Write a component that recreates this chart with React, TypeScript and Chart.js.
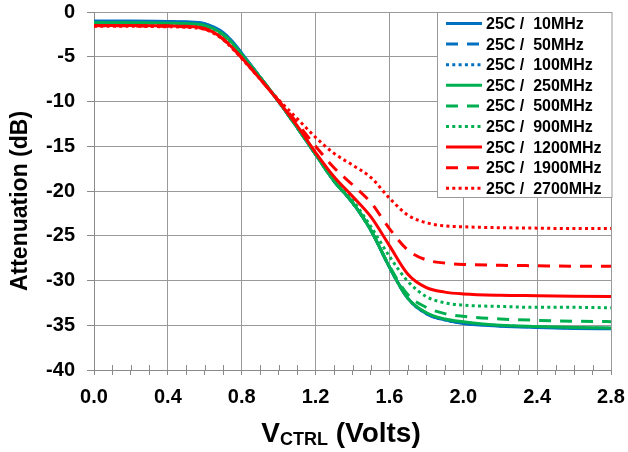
import React, { useEffect, useRef } from "react";
import { Chart, registerables } from "chart.js";

Chart.register(...registerables);

// Control voltage (V)
const VOLTS = [0, 0.2, 0.4, 0.5, 0.6, 0.65, 0.7, 0.75, 0.8, 0.9, 1.0, 1.1, 1.2, 1.3, 1.4, 1.5, 1.6, 1.7, 1.8, 1.9, 2.0, 2.2, 2.4, 2.6, 2.8];

// Attenuation (dB) per frequency
const ATT_10MHZ = [-1.0, -1.0, -1.05, -1.1, -1.3, -1.7, -2.3, -3.3, -4.6, -7.3, -10.0, -12.9, -15.9, -18.9, -21.3, -24.4, -28.5, -32.0, -33.7, -34.4, -34.8, -35.1, -35.25, -35.35, -35.4];
const ATT_50MHZ = [-1.05, -1.05, -1.1, -1.15, -1.35, -1.75, -2.35, -3.35, -4.65, -7.3, -10.0, -12.9, -15.9, -18.9, -21.3, -24.4, -28.5, -32.0, -33.7, -34.4, -34.75, -35.05, -35.2, -35.3, -35.35];
const ATT_100MHZ = [-1.1, -1.1, -1.15, -1.2, -1.4, -1.8, -2.4, -3.4, -4.7, -7.3, -10.0, -12.9, -15.9, -18.9, -21.3, -24.4, -28.5, -32.0, -33.7, -34.4, -34.75, -35.05, -35.2, -35.3, -35.35];
const ATT_250MHZ = [-1.2, -1.2, -1.25, -1.3, -1.5, -1.9, -2.5, -3.5, -4.75, -7.3, -10.0, -12.9, -15.9, -18.9, -21.3, -24.4, -28.5, -32.0, -33.6, -34.3, -34.6, -35.0, -35.15, -35.25, -35.3];
const ATT_500MHZ = [-1.25, -1.25, -1.3, -1.35, -1.55, -1.95, -2.55, -3.55, -4.8, -7.3, -10.0, -12.9, -15.9, -18.9, -21.3, -24.4, -28.4, -31.6, -33.0, -33.7, -34.0, -34.3, -34.45, -34.55, -34.6];
const ATT_900MHZ = [-1.3, -1.3, -1.35, -1.4, -1.6, -2.0, -2.6, -3.6, -4.85, -7.3, -10.0, -12.8, -15.8, -18.6, -21.0, -24.0, -27.3, -30.1, -31.8, -32.5, -32.75, -32.9, -33.0, -33.0, -33.05];
const ATT_1200MHZ = [-1.5, -1.5, -1.55, -1.6, -1.85, -2.3, -3.0, -4.0, -5.1, -7.5, -10.0, -12.7, -15.7, -18.4, -20.6, -22.9, -26.1, -29.3, -30.8, -31.3, -31.5, -31.65, -31.7, -31.75, -31.8];
const ATT_1900MHZ = [-1.55, -1.55, -1.6, -1.65, -1.9, -2.35, -3.05, -4.05, -5.1, -7.5, -9.9, -12.4, -15.0, -17.4, -19.3, -21.3, -24.2, -26.6, -27.7, -28.05, -28.2, -28.3, -28.35, -28.4, -28.4];
const ATT_2700MHZ = [-1.6, -1.6, -1.65, -1.7, -1.95, -2.4, -3.1, -4.1, -5.2, -7.5, -9.8, -11.9, -14.0, -15.8, -17.1, -18.5, -20.8, -22.7, -23.55, -23.9, -24.0, -24.1, -24.15, -24.2, -24.2];

const SERIES_LABELS = ["25C /  10MHz", "25C /  50MHz", "25C /  100MHz", "25C /  250MHz", "25C /  500MHz", "25C /  900MHz", "25C /  1200MHz", "25C /  1900MHz", "25C /  2700MHz"];
const SERIES_VALUES = [ATT_10MHZ, ATT_50MHZ, ATT_100MHZ, ATT_250MHZ, ATT_500MHZ, ATT_900MHZ, ATT_1200MHZ, ATT_1900MHZ, ATT_2700MHZ];

const X_MIN = 0;
const X_MAX = 2.8;
const Y_MIN = -40;
const Y_MAX = 0;

const BLUE = "#0070C0";
const GREEN = "#00B050";
const RED = "#FF0000";
const COLORS = [BLUE, BLUE, BLUE, GREEN, GREEN, GREEN, RED, RED, RED];
const DASH_SOLID: number[] = [];
const DASH_LONG = [12, 9];
const DASH_DOT = [3, 3.3];
const DASHES = [DASH_SOLID, DASH_LONG, DASH_DOT, DASH_SOLID, DASH_LONG, DASH_DOT, DASH_SOLID, DASH_LONG, DASH_DOT];

const FONT = '"Liberation Sans", Arial, sans-serif';
const GRID = "#9a9a9a";
const AXIS = "#8a8a8a";

const isMajor = (v: number) => Math.round(v * 10) % 4 === 0;

const overlayPlugin = {
  id: "overlay",
  afterDraw(chart: any) {
    const ctx = chart.ctx as CanvasRenderingContext2D;
    const area = chart.chartArea;
    const xs = chart.scales.x;
    ctx.save();
    // minor tick marks crossing into the plot
    ctx.strokeStyle = AXIS;
    ctx.lineWidth = 1;
    xs.ticks.forEach((t: any) => {
      if (!isMajor(t.value)) {
        const px = Math.round(xs.getPixelForValue(t.value)) + 0.5;
        ctx.beginPath();
        ctx.moveTo(px, area.bottom - 5);
        ctx.lineTo(px, area.bottom);
        ctx.stroke();
      }
    });

    // legend box
    const lx = 437.5;
    const ly = area.top + 0.5;
    const lw = area.right + 1 - lx;
    const lh = 185;
    ctx.fillStyle = "#ffffff";
    ctx.fillRect(lx, ly, lw, lh);
    ctx.strokeStyle = "#9a9a9a";
    ctx.lineWidth = 1;
    ctx.strokeRect(lx, ly, lw, lh);
    chart.data.datasets.forEach((ds: any, i: number) => {
      const cy = ly + 11 + i * 20.6;
      ctx.strokeStyle = ds.borderColor;
      ctx.lineWidth = 3;
      ctx.setLineDash(ds.borderDash || []);
      ctx.beginPath();
      ctx.moveTo(446, cy);
      ctx.lineTo(482, cy);
      ctx.stroke();
      ctx.setLineDash([]);
      ctx.fillStyle = "#000";
      ctx.font = `bold 16px ${FONT}`;
      ctx.textAlign = "left";
      ctx.textBaseline = "middle";
      ctx.fillText(ds.label, 486, cy + 1);
    });

    // y-axis title
    ctx.save();
    ctx.translate(21, 201);
    ctx.rotate(-Math.PI / 2);
    ctx.fillStyle = "#000";
    ctx.font = `bold 23px ${FONT}`;
    ctx.textAlign = "center";
    ctx.textBaseline = "middle";
    ctx.fillText("Attenuation (dB)", 0, 0);
    ctx.restore();

    // x-axis title with subscript
    const big = `bold 28px ${FONT}`;
    const small = `bold 18px ${FONT}`;
    ctx.fillStyle = "#000";
    ctx.textAlign = "left";
    ctx.textBaseline = "alphabetic";
    ctx.font = big;
    const wV = ctx.measureText("V").width;
    const wRest = ctx.measureText(" (Volts)").width;
    ctx.font = small;
    const wSub = ctx.measureText("CTRL").width;
    let x = 341 - (wV + wSub + wRest) / 2;
    const base = 442;
    ctx.font = big;
    ctx.fillText("V", x, base);
    x += wV;
    ctx.font = small;
    ctx.fillText("CTRL", x, base + 3);
    x += wSub;
    ctx.font = big;
    ctx.fillText(" (Volts)", x, base);
    ctx.restore();
  },
};

export default function App() {
  const ref = useRef<HTMLCanvasElement | null>(null);

  useEffect(() => {
    document.body.style.margin = "0";
    const canvas = ref.current;
    if (!canvas) return;
    const datasets = SERIES_VALUES.map((vals, i) => ({
      label: SERIES_LABELS[i],
      data: VOLTS.map((v, j) => ({ x: v, y: vals[j] })),
      borderColor: COLORS[i],
      backgroundColor: COLORS[i],
      borderDash: DASHES[i],
      borderWidth: 3,
      borderCapStyle: "butt" as const,
      pointRadius: 0,
      fill: false,
      cubicInterpolationMode: "monotone" as const,
      order: SERIES_VALUES.length - 1 - i,
    }));

    const chart = new Chart(canvas, {
      type: "line",
      data: { datasets },
      plugins: [overlayPlugin],
      options: {
        animation: false,
        responsive: false,
        devicePixelRatio: 1,
        layout: { padding: { top: 12, right: 17, left: 0, bottom: 0 } },
        plugins: {
          legend: { display: false },
          tooltip: { enabled: false },
        },
        scales: {
          x: {
            type: "linear",
            min: X_MIN,
            max: X_MAX,
            afterFit: (s: any) => {
              s.height = 82;
              s.paddingLeft = 0;
              s.paddingRight = 0;
            },
            ticks: {
              stepSize: 0.1,
              autoSkip: false,
              maxRotation: 0,
              padding: 10,
              color: "#000",
              font: { family: FONT, size: 20, weight: "bold" },
              callback: (v: any) => (isMajor(Number(v)) ? Number(v).toFixed(1) : ""),
            },
            grid: {
              color: (c: any) => (c.tick && isMajor(c.tick.value) ? GRID : "rgba(0,0,0,0)"),
              tickColor: AXIS,
              tickLength: 5,
              lineWidth: 1,
            },
            border: { color: AXIS, width: 1 },
          },
          y: {
            type: "linear",
            min: Y_MIN,
            max: Y_MAX,
            afterFit: (s: any) => {
              s.width = 94;
              s.paddingTop = 0;
              s.paddingBottom = 0;
            },
            ticks: {
              stepSize: 5,
              padding: 12,
              color: "#000",
              font: { family: FONT, size: 20, weight: "bold" },
            },
            grid: {
              color: GRID,
              tickColor: AXIS,
              tickLength: 7,
              lineWidth: 1,
            },
            border: { color: AXIS, width: 1 },
          },
        },
      },
    });
    return () => chart.destroy();
  }, []);

  return (
    <div style={{ width: 628, height: 452 }}>
      <canvas ref={ref} width={628} height={452} style={{ width: 628, height: 452, display: "block" }} />
    </div>
  );
}
